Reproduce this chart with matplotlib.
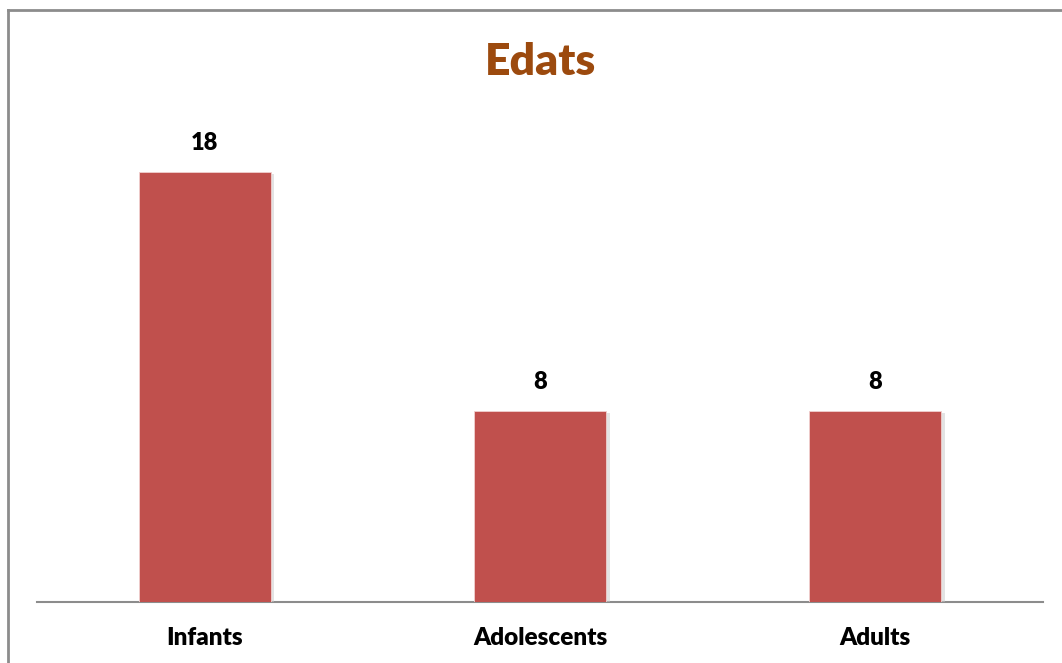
import matplotlib
matplotlib.use("Agg")
import matplotlib.pyplot as plt
from matplotlib import patheffects as pe
from matplotlib.lines import Line2D

categories = ["Infants", "Adolescents", "Adults"]
values = [18, 8, 8]
title = "Edats"

W, H = 1062, 663
fig = plt.figure(figsize=(W / 100, H / 100), dpi=100)
plt.rcParams['font.family'] = ['Lato', 'DejaVu Sans']

# chart border (top and left visible, runs off right/bottom)
fig.add_artist(Line2D([7.5 / W, 7.5 / W], [0, 1 - 10 / H], transform=fig.transFigure,
                      color="#8c8c8c", lw=2))
fig.add_artist(Line2D([7.5 / W, 1.0], [1 - 10 / H, 1 - 10 / H], transform=fig.transFigure,
                      color="#8c8c8c", lw=2))

# axes: x from 37 to 1043 px; baseline at y=602
left, right = 37, 1043
base = 602
ymax = 20
px_per_unit = (602 - 172) / 18
top = base - ymax * px_per_unit
ax = fig.add_axes([left / W, 1 - base / H, (right - left) / W, (base - top) / H])
ax.set_xlim(-0.5, len(categories) - 0.5)
ax.set_ylim(0, ymax)

bars = ax.bar(range(len(categories)), values, width=0.394, color="#C0504D",
              edgecolor="#f0d0cf", linewidth=0.6, zorder=3)
for b in bars:
    b.set_path_effects([pe.SimplePatchShadow(offset=(2.5, -1.5), shadow_rgbFace="#c8c8c8", alpha=0.5),
                        pe.Normal()])

for i, v in enumerate(values):
    ax.annotate(str(v), (i, v), xytext=(0, 13), textcoords="offset points",
                ha="center", va="bottom", fontsize=17, fontweight="heavy", color="black")

for s in ["top", "right", "left"]:
    ax.spines[s].set_visible(False)
ax.spines["bottom"].set_color("#8c8c8c")
ax.spines["bottom"].set_linewidth(1.5)
ax.set_yticks([])
ax.set_xticks(range(len(categories)))
ax.set_xticklabels(categories, fontsize=17.5, fontweight="heavy")
ax.tick_params(axis="x", length=0, pad=18)

fig.text(540 / W, 1 - 62 / H, title, ha="center", va="center", fontsize=32,
         fontweight="heavy", color="#9C4A0E")

fig.savefig("out.png", dpi=100)
